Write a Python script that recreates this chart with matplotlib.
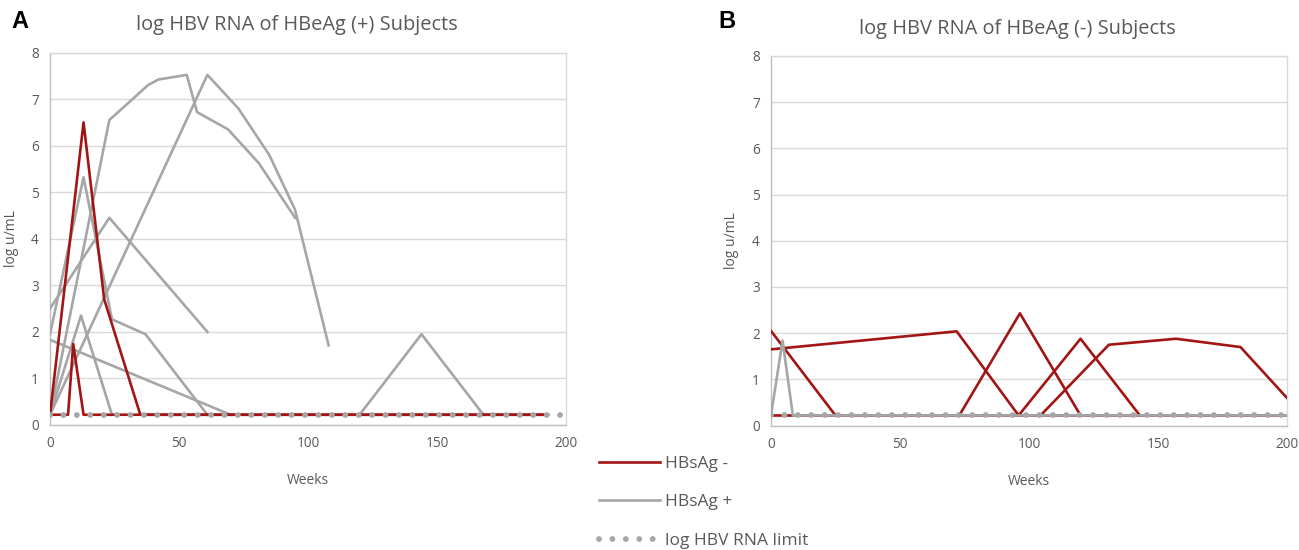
import matplotlib
matplotlib.use("Agg")
import matplotlib.pyplot as plt

plt.rcParams['font.family'] = ['Open Sans', 'DejaVu Sans']

# cores
vermelho = '#a31515'
cinza = '#a6a6a6'
texto = '#595959'
grade = '#d9d9d9'

limite = 0.22  # log HBV RNA limit

# ---- painel A: HBeAg (+) ----
# HBsAg -
a_neg1_x = [0, 13, 21, 35, 193]
a_neg1_y = [0.22, 6.5, 2.7, 0.22, 0.22]
a_neg2_x = [0, 7, 9, 13, 193]
a_neg2_y = [0.22, 0.22, 1.74, 0.22, 0.22]
# HBsAg +
a_pos1_x = [0, 23, 61]
a_pos1_y = [2.5, 4.45, 2.0]
a_pos2_x = [0, 13, 24, 37, 61]
a_pos2_y = [1.95, 5.32, 2.27, 1.95, 0.22]
a_pos3_x = [0, 23, 38, 42, 53, 57, 69, 81, 95]
a_pos3_y = [0.22, 6.55, 7.3, 7.42, 7.52, 6.72, 6.35, 5.62, 4.45]
a_pos4_x = [0, 61, 73, 85, 95, 108]
a_pos4_y = [0.22, 7.52, 6.8, 5.8, 4.62, 1.71]
a_pos5_x = [0, 12, 24]
a_pos5_y = [0.22, 2.35, 0.22]
a_pos6_x = [0, 70]
a_pos6_y = [1.83, 0.22]
a_pos7_x = [120, 144, 168]
a_pos7_y = [0.22, 1.95, 0.22]

# ---- painel B: HBeAg (-) ----
b_neg1_x = [0, 25]
b_neg1_y = [2.05, 0.22]
b_neg2_x = [0, 72, 96, 120, 143]
b_neg2_y = [1.65, 2.04, 0.22, 1.88, 0.22]
b_neg3_x = [73, 96.5, 120]
b_neg3_y = [0.22, 2.43, 0.22]
b_neg4_x = [104.5, 131, 157, 182, 200]
b_neg4_y = [0.22, 1.75, 1.88, 1.7, 0.6]
b_neg5_x = [0, 200]
b_neg5_y = [0.22, 0.22]
b_pos1_x = [0, 4.5, 8.5, 200]
b_pos1_y = [0.22, 1.84, 0.22, 0.22]

limite_x = [0, 199]

fig = plt.figure(figsize=(12.99, 5.5), dpi=100)
axA = fig.add_axes([0.0385, 0.2273, 0.3972, 0.6772])
axB = fig.add_axes([0.5935, 0.2262, 0.3972, 0.6720])

lw = 1.9

def estilo(ax, titulo):
    ax.set_xlim(0, 200)
    ax.set_ylim(0, 8)
    ax.set_xticks([0, 50, 100, 150, 200])
    ax.set_yticks(range(0, 9))
    ax.grid(axis='y', color=grade, linewidth=1.0)
    ax.set_axisbelow(True)
    for s in ax.spines.values():
        s.set_color(grade)
        s.set_linewidth(1.0)
    ax.spines['left'].set_color('#bfbfbf')
    ax.spines['bottom'].set_color('#bfbfbf')
    ax.tick_params(length=0, colors=texto, labelsize=9.8, pad=8)
    ax.set_ylabel('log u/mL', color=texto, fontsize=10, labelpad=9)
    ax.set_xlabel('Weeks', color=texto, fontsize=10, labelpad=16)
    ax.set_title(titulo, color=texto, fontsize=14.4, pad=16, x=0.478)

def pontos(ax):
    return ax.plot(limite_x, [limite, limite], color=cinza, linewidth=4.2,
                   linestyle=(0, (0.001, 2.3)), dash_capstyle='round',
                   zorder=5)[0]

# A
estilo(axA, 'log HBV RNA of HBeAg (+) Subjects')
for xs, ys in [(a_pos1_x, a_pos1_y), (a_pos2_x, a_pos2_y), (a_pos3_x, a_pos3_y),
               (a_pos4_x, a_pos4_y), (a_pos5_x, a_pos5_y), (a_pos6_x, a_pos6_y),
               (a_pos7_x, a_pos7_y)]:
    lp = axA.plot(xs, ys, color=cinza, linewidth=lw, zorder=3)[0]
for xs, ys in [(a_neg1_x, a_neg1_y), (a_neg2_x, a_neg2_y)]:
    ln = axA.plot(xs, ys, color=vermelho, linewidth=lw, zorder=4)[0]
ll = pontos(axA)

# B
estilo(axB, 'log HBV RNA of HBeAg (-) Subjects')
for xs, ys in [(b_neg5_x, b_neg5_y), (b_neg1_x, b_neg1_y), (b_neg2_x, b_neg2_y),
               (b_neg3_x, b_neg3_y), (b_neg4_x, b_neg4_y)]:
    axB.plot(xs, ys, color=vermelho, linewidth=lw, zorder=3)
axB.plot(b_pos1_x, b_pos1_y, color=cinza, linewidth=lw, zorder=4)
pontos(axB)

fig.text(0.009, 0.96, 'A', fontsize=17, fontweight='bold', family='Liberation Sans', va='center')
fig.text(0.553, 0.96, 'B', fontsize=17, fontweight='bold', family='Liberation Sans', va='center')

leg = fig.legend(handles=[ln, lp, ll], labels=['HBsAg -', 'HBsAg +', 'log HBV RNA limit'],
                 loc='upper left', bbox_to_anchor=(0.449, 0.2), frameon=False,
                 fontsize=12.5, handlelength=3.5, labelspacing=1.3, handletextpad=0.3,
                 labelcolor=texto)

fig.savefig('out.png', dpi=100)
